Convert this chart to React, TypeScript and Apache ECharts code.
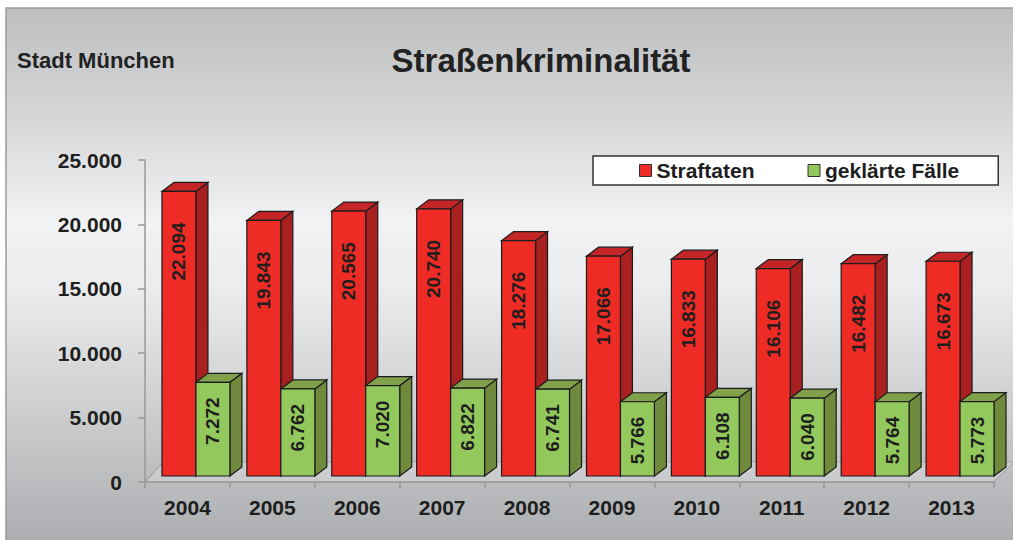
import React, { useEffect, useRef } from "react";
import * as echarts from "echarts";

const categories = ["2004", "2005", "2006", "2007", "2008", "2009", "2010", "2011", "2012", "2013"];
const straftaten = [22094, 19843, 20565, 20740, 18276, 17066, 16833, 16106, 16482, 16673];
const geklaerteFaelle = [7272, 6762, 7020, 6822, 6741, 5766, 6108, 6040, 5764, 5773];
const seriesNames = ["Straftaten", "geklärte Fälle"];
const yMin = 0;
const yMax = 25000;
const yInterval = 5000;

const FONT = '"Liberation Sans", Arial, Helvetica, sans-serif';
const W = 1013;
const H = 540;
const GRID = { left: 145, top: 160, right: 19, bottom: 58 };
const DEPTH_X = 12;
const DEPTH_Y = -9;
const SHIFT_Y = -6;

function fmt(v: number): string {
  const s = String(Math.round(v));
  return s.replace(/\B(?=(\d{3})+(?!\d))/g, ".");
}

type BarCfg = { off: number; w: number; front: string; side: string; top: string; labelOff: number };

const RED: BarCfg = { off: -0.3, w: 0.4, front: "#ee2b25", side: "#a92020", top: "#c42526", labelOff: 31 };
const GREEN: BarCfg = { off: 0.1, w: 0.4, front: "#93c85c", side: "#6f8a3d", top: "#80a04a", labelOff: 15 };

function makeRender(cfg: BarCfg) {
  return (params: any, api: any) => {
    const i = api.value(0);
    const v = api.value(1);
    const band = api.size([1, 0])[0];
    const c = api.coord([i, v]);
    const b = api.coord([i, 0]);
    const x0 = c[0] + cfg.off * band;
    const x1 = x0 + cfg.w * band;
    const top = c[1] + SHIFT_Y;
    const bot = b[1] + SHIFT_Y;
    const stroke = "#1c1c1c";
    const lw = 1.2;
    return {
      type: "group",
      children: [
        {
          type: "polygon",
          shape: { points: [[x1, top], [x1 + DEPTH_X, top + DEPTH_Y], [x1 + DEPTH_X, bot + DEPTH_Y], [x1, bot]] },
          style: { fill: cfg.side, stroke, lineWidth: lw },
        },
        {
          type: "polygon",
          shape: { points: [[x0, top], [x0 + DEPTH_X, top + DEPTH_Y], [x1 + DEPTH_X, top + DEPTH_Y], [x1, top]] },
          style: { fill: cfg.top, stroke, lineWidth: lw },
        },
        {
          type: "rect",
          shape: { x: x0, y: top, width: x1 - x0, height: bot - top },
          style: { fill: cfg.front, stroke, lineWidth: lw },
        },
        {
          type: "text",
          x: (x0 + x1) / 2,
          y: top + cfg.labelOff,
          rotation: Math.PI / 2,
          style: {
            text: fmt(v),
            align: "right",
            verticalAlign: "middle",
            fill: "#1e1e1e",
            font: `bold 19px ${FONT}`,
          },
        },
      ],
    };
  };
}

export default function App() {
  const ref = useRef<HTMLDivElement>(null);
  useEffect(() => {
    if (!ref.current) return;
    const chart = echarts.init(ref.current, undefined, { renderer: "svg" });
    const fl = GRID.left;
    const fr = W - GRID.right;
    const fb = H - GRID.bottom;
    const option: any = {
      animation: false,
      graphic: [
        {
          type: "rect",
          z: -100,
          shape: { x: 6, y: 8, width: W + 20, height: H + 20 },
          style: {
            fill: new echarts.graphic.LinearGradient(0, 0, 0, 1, [
              { offset: 0, color: "#bdbec0" },
              { offset: 0.2, color: "#d6d7d9" },
              { offset: 0.38, color: "#f1f2f3" },
              { offset: 0.5, color: "#ebeced" },
              { offset: 1, color: "#a5a7aa" },
            ]),
            stroke: "#9a9a9a",
            lineWidth: 1.5,
          },
        },
        {
          type: "polygon",
          z: -90,
          shape: { points: [[fl, fb], [fr, fb], [fr + 20, fb - 20], [fl + 18, fb - 20]] },
          style: { fill: "rgba(255,255,255,0.22)", stroke: "#a8a8a8", lineWidth: 1.2 },
        },
        {
          type: "text",
          x: 541,
          y: 60,
          style: { text: "Straßenkriminalität", align: "center", verticalAlign: "middle", fill: "#222", font: `bold 33px ${FONT}` },
        },
        {
          type: "text",
          x: 17,
          y: 60,
          style: { text: "Stadt München", align: "left", verticalAlign: "middle", fill: "#222", font: `bold 22px ${FONT}` },
        },
      ],
      legend: {
        data: seriesNames,
        left: 593,
        top: 156,
        orient: "horizontal",
        padding: [4, 39, 4, 46],
        itemGap: 53,
        itemWidth: 12,
        itemHeight: 12,
        icon: "rect",
        backgroundColor: "#ffffff",
        borderColor: "#333333",
        borderWidth: 1.5,
        borderRadius: 0,
        itemStyle: { borderColor: "#333", borderWidth: 1 },
        textStyle: { fontSize: 21, fontWeight: "bold", color: "#1e1e1e", fontFamily: FONT },
      },
      grid: { left: GRID.left, top: GRID.top, right: GRID.right, bottom: GRID.bottom, containLabel: false },
      xAxis: {
        type: "category",
        data: categories,
        boundaryGap: true,
        axisLine: { show: true, lineStyle: { color: "#999", width: 1.5 } },
        axisTick: { show: true, length: 6, lineStyle: { color: "#999", width: 1.5 } },
        axisLabel: { margin: 15, fontSize: 21, fontWeight: "bold", color: "#1e1e1e", fontFamily: FONT },
        splitLine: { show: false },
        z: 1,
      },
      yAxis: {
        type: "value",
        min: yMin,
        max: yMax,
        interval: yInterval,
        axisLine: { show: true, lineStyle: { color: "#999", width: 1.5 } },
        axisTick: { show: true, length: 7, lineStyle: { color: "#999", width: 1.5 } },
        axisLabel: { margin: 23, fontSize: 21, fontWeight: "bold", color: "#1e1e1e", fontFamily: FONT, formatter: (v: number) => fmt(v) },
        splitLine: { show: false },
      },
      series: [
        {
          name: seriesNames[0],
          type: "custom",
          renderItem: makeRender(RED),
          itemStyle: { color: RED.front },
          encode: { x: 0, y: 1 },
          data: straftaten.map((v, i) => [i, v]),
          z: 3,
        },
        {
          name: seriesNames[1],
          type: "custom",
          renderItem: makeRender(GREEN),
          itemStyle: { color: GREEN.front },
          encode: { x: 0, y: 1 },
          data: geklaerteFaelle.map((v, i) => [i, v]),
          z: 4,
        },
      ],
    };
    chart.setOption(option);
    return () => chart.dispose();
  }, []);
  return <div ref={ref} style={{ position: "absolute", left: 0, top: 0, width: W, height: H }} />;
}
